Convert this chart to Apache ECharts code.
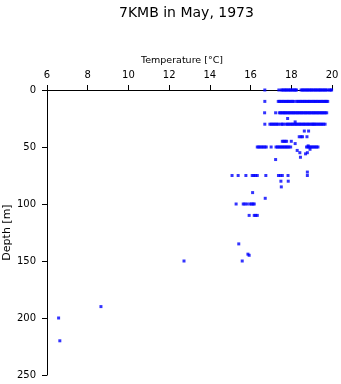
<!DOCTYPE html>
<html>
<head>
<meta charset="utf-8">
<script src="https://cdn.jsdelivr.net/npm/echarts@6/dist/echarts.min.js"></script>
<style>
html,body{margin:0;padding:0;background:#fff;}
#chart{width:341px;height:384px;}
</style>
</head>
<body>
<div id="chart"></div>
<script>
// Depth levels [m] and the temperatures [°C] observed at each level
const depthLevels = [0, 10, 20, 25, 28, 30, 36, 41, 45, 47, 49, 50, 52, 53, 55, 56, 59, 61, 72, 75, 80, 85, 90, 95, 100, 110, 135, 144, 145, 150, 190, 200, 220];
const tempsAtDepth = [
  [16.70, 17.39, 17.52, 17.58, 17.65, 17.71, 17.77, 17.84, 17.90, 17.96, 18.03, 18.09, 18.15, 18.21, 18.26, 18.48, 18.54, 18.61, 18.67, 18.74, 18.80, 18.87, 18.93, 18.99, 19.06, 19.12, 19.19, 19.25, 19.32, 19.38, 19.44, 19.51, 19.57, 19.64, 19.70, 19.77, 19.87, 19.93, 19.98],
  [16.70, 17.36, 17.42, 17.49, 17.55, 17.62, 17.68, 17.75, 17.81, 17.87, 17.94, 18.00, 18.07, 18.13, 18.26, 18.32, 18.39, 18.45, 18.52, 18.58, 18.65, 18.71, 18.78, 18.84, 18.90, 18.97, 19.03, 19.10, 19.16, 19.22, 19.29, 19.35, 19.42, 19.48, 19.55, 19.61, 19.67, 19.73, 19.79],
  [16.69, 17.23, 17.41, 17.47, 17.54, 17.60, 17.66, 17.72, 17.79, 17.85, 17.92, 17.98, 18.05, 18.11, 18.18, 18.24, 18.31, 18.37, 18.44, 18.50, 18.57, 18.63, 18.70, 18.76, 18.83, 18.89, 18.96, 19.02, 19.09, 19.15, 19.22, 19.28, 19.35, 19.41, 19.48, 19.54, 19.61, 19.67, 19.74],
  [17.82],
  [18.19],
  [16.70, 16.95, 17.02, 17.09, 17.16, 17.23, 17.30, 17.37, 17.49, 17.55, 17.61, 17.73, 17.80, 17.86, 17.93, 18.00, 18.06, 18.13, 18.20, 18.26, 18.33, 18.40, 18.46, 18.53, 18.60, 18.66, 18.73, 18.80, 18.86, 18.93, 19.00, 19.06, 19.11, 19.16, 19.23, 19.30, 19.37, 19.44, 19.51, 19.58, 19.66],
  [18.64, 18.85],
  [18.39, 18.48, 18.55, 18.77],
  [17.56, 17.63, 17.70, 17.77, 18.00],
  [18.19],
  [18.83],
  [16.33, 16.40, 16.47, 16.55, 16.62, 16.70, 16.77, 17.01, 17.25, 17.32, 17.39, 17.46, 17.53, 17.60, 17.67, 17.74, 17.81, 17.88, 17.97, 18.75, 18.82, 18.89, 18.96, 19.03, 19.10, 19.17, 19.24, 19.31],
  [18.92],
  [18.29],
  [18.42, 18.79],
  [18.70],
  [18.45],
  [17.23],
  [18.79],
  [15.09, 15.39, 15.77, 16.08, 16.16, 16.24, 16.33, 16.75, 17.37, 17.46, 17.56, 17.84, 18.79],
  [17.49, 17.85],
  [17.51],
  [16.10],
  [16.72],
  [15.29, 15.64, 15.72, 15.83, 15.97, 16.05, 16.12, 16.18],
  [15.93, 16.18, 16.25, 16.33],
  [15.42],
  [15.87],
  [15.93],
  [12.73, 15.59],
  [8.65],
  [6.57],
  [6.63]
];
const xTicks = {min: 6, max: 20, step: 2};
const yTicks = {min: 0, max: 250, step: 50};
const titleText = '7KMB in May, 1973';
const xName = 'Temperature [°C]';
const yName = 'Depth [m]';

const points = [];
depthLevels.forEach((d, i) => {
  tempsAtDepth[i].forEach(t => points.push([t, d]));
});

const chart = echarts.init(document.getElementById('chart'), null, {renderer: 'canvas'});
const font = 'DejaVu Sans';
chart.setOption({
  animation: false,
  backgroundColor: '#ffffff',
  title: {
    text: titleText,
    left: 114,
    top: 1,
    textStyle: {fontFamily: font, fontSize: 14, fontWeight: 'normal', color: '#000'}
  },
  grid: {left: 47, top: 90, width: 285, height: 285, containLabel: false, outerBoundsMode: 'none'},
  xAxis: {
    type: 'value',
    position: 'top',
    min: xTicks.min, max: xTicks.max, interval: xTicks.step,
    name: xName,
    nameLocation: 'middle',
    nameGap: 24,
    nameMoveOverlap: false,
    nameTextStyle: {fontFamily: font, fontSize: 9.5, color: '#000', padding: [0, 15, 0, 0]},
    axisLine: {show: true, onZero: false, lineStyle: {color: '#000', width: 1}},
    axisTick: {show: true, inside: false, length: 5, lineStyle: {color: '#000'}},
    axisLabel: {margin: 10, fontFamily: font, fontSize: 10, color: '#000'},
    splitLine: {show: false}
  },
  yAxis: {
    type: 'value',
    inverse: true,
    min: yTicks.min, max: yTicks.max, interval: yTicks.step,
    name: yName,
    nameLocation: 'middle',
    nameGap: 34,
    nameRotate: 90,
    nameMoveOverlap: false,
    nameTextStyle: {fontFamily: font, fontSize: 11, color: '#000'},
    axisLine: {show: true, onZero: false, lineStyle: {color: '#000', width: 1}},
    axisTick: {show: true, inside: false, length: 5, lineStyle: {color: '#000'}},
    axisLabel: {margin: 11, fontFamily: font, fontSize: 10, color: '#000'},
    splitLine: {show: false}
  },
  series: [{
    type: 'scatter',
    data: points,
    symbol: 'rect',
    symbolSize: [3, 3],
    itemStyle: {color: '#0000ff'},
    silent: true
  }]
});
</script>
</body>
</html>
